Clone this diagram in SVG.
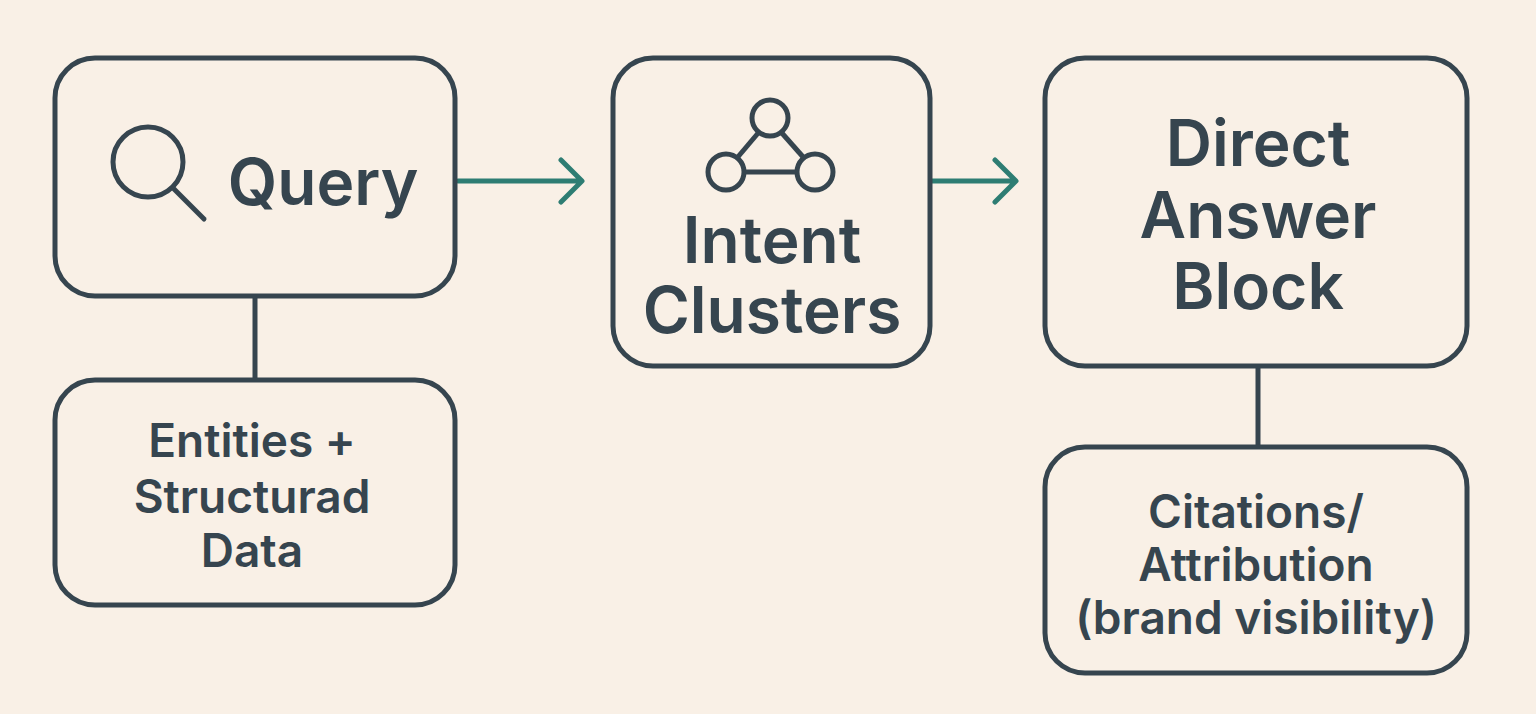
<svg xmlns="http://www.w3.org/2000/svg" width="1536" height="714" viewBox="0 0 1536 714">
<style>
.box{fill:none;stroke:#36454f;stroke-width:5}
.t{font-family:Inter,"Liberation Sans",sans-serif;font-weight:600;fill:#36454f;text-anchor:middle}
.big{font-size:64px}.sm{font-size:46px}
.ln{stroke:#36454f;stroke-width:5;fill:none}
.ar{stroke:#2e7d73;stroke-width:5;fill:none;stroke-linecap:round;stroke-linejoin:round}
</style>
<rect width="1536" height="714" fill="#f9f0e6"/>
<g id="connectors">
<line class="ln" x1="255" y1="296" x2="255" y2="380"/>
<line class="ln" x1="1258" y1="366" x2="1258" y2="447"/>
<path class="ar" d="M458 181H581M561 160L582 181L561 202"/>
<path class="ar" d="M932 181H1015M995 160L1016 181L995 202"/>
</g>
<g id="query">
<rect class="box" x="55" y="58" width="400" height="238" rx="40"/>
<circle class="ln" cx="148" cy="162" r="35"/>
<line class="ln" x1="174" y1="189" x2="204" y2="219" stroke-linecap="round"/>
<text class="t big" x="323" y="205">Query</text>
</g>
<g id="entities">
<rect class="box" x="55" y="380" width="400" height="225" rx="40"/>
<text class="t sm" x="252" y="457">Entities +</text>
<text class="t sm" x="252" y="513">Structurad</text>
<text class="t sm" x="252" y="567">Data</text>
</g>
<g id="intent">
<rect class="box" x="613" y="58" width="317" height="308" rx="40"/>
<circle class="ln" cx="770" cy="118" r="18"/>
<circle class="ln" cx="726" cy="172" r="18"/>
<circle class="ln" cx="815" cy="172" r="18"/>
<line class="ln" x1="744" y1="172" x2="797" y2="172"/>
<line class="ln" x1="759" y1="132" x2="737" y2="158"/>
<line class="ln" x1="781" y1="132" x2="804" y2="158"/>
<text class="t big" x="772" y="263">Intent</text>
<text class="t big" x="772" y="333">Clusters</text>
</g>
<g id="direct">
<rect class="box" x="1045" y="58" width="422" height="308" rx="40"/>
<text class="t big" x="1258" y="166">Direct</text>
<text class="t big" x="1258" y="238">Answer</text>
<text class="t big" x="1258" y="309">Block</text>
</g>
<g id="citations">
<rect class="box" x="1045" y="447" width="422" height="226" rx="40"/>
<text class="t sm" x="1256" y="528">Citations/</text>
<text class="t sm" x="1256" y="581">Attribution</text>
<text class="t sm" x="1256" y="634">(brand visibility)</text>
</g>
</svg>
